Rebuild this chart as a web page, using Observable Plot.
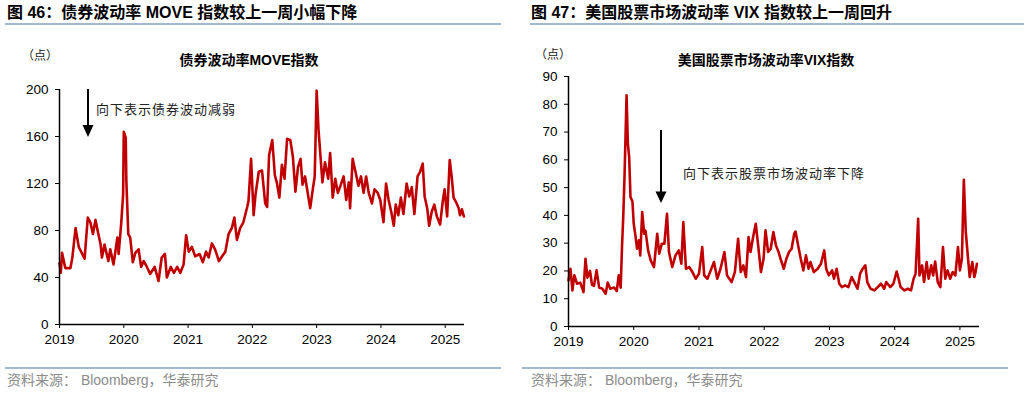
<!DOCTYPE html>
<html><head><meta charset="utf-8">
<script src="https://cdn.jsdelivr.net/npm/d3@7"></script>
<script src="https://cdn.jsdelivr.net/npm/@observablehq/plot@0.6"></script>
<style>
body{margin:0;background:#fff;width:1030px;height:393px;position:relative;overflow:hidden;font-family:"Liberation Sans","Noto Sans CJK SC",sans-serif;}
.abs{position:absolute;white-space:nowrap;line-height:1;}
.title{font-weight:bold;font-size:16px;color:#000;}
.rule{position:absolute;background:#a3b9d2;}
.unit{font-size:12px;color:#222;font-family:"Noto Sans CJK SC",sans-serif;}
.sub{font-weight:bold;font-size:14px;color:#000;transform:translateX(-50%);}
.note{font-size:13px;letter-spacing:1px;color:#222;font-family:"Noto Sans CJK SC",sans-serif;}
.src{font-size:14px;color:#8c8c8c;}
.plot{position:absolute;top:0;}
</style></head><body>
<script>
// ---- data ----
const years = [2019, 2020, 2021, 2022, 2023, 2024, 2025];
const moveTicks = [0, 40, 80, 120, 160, 200];
const vixTicks = [0, 10, 20, 30, 40, 50, 60, 70, 80, 90];

const moveT = [2019.00,2019.02,2019.04,2019.09,2019.17,2019.20,2019.25,2019.30,2019.39,2019.44,2019.48,2019.52,2019.56,2019.60,2019.64,2019.66,2019.70,2019.76,2019.79,2019.84,2019.90,2019.92,2019.96,2019.99,2020.00,2020.03,2020.04,2020.07,2020.10,2020.14,2020.18,2020.23,2020.27,2020.31,2020.36,2020.41,2020.48,2020.54,2020.59,2020.64,2020.67,2020.73,2020.78,2020.83,2020.88,2020.93,2020.97,2021.01,2021.06,2021.11,2021.18,2021.23,2021.28,2021.32,2021.37,2021.42,2021.48,2021.53,2021.58,2021.63,2021.68,2021.72,2021.76,2021.81,2021.86,2021.92,2021.94,2021.98,2022.02,2022.05,2022.10,2022.15,2022.20,2022.23,2022.26,2022.31,2022.35,2022.38,2022.42,2022.46,2022.50,2022.54,2022.59,2022.63,2022.67,2022.71,2022.75,2022.78,2022.82,2022.87,2022.90,2022.94,2022.97,2023.00,2023.03,2023.06,2023.09,2023.13,2023.18,2023.21,2023.25,2023.29,2023.33,2023.37,2023.42,2023.46,2023.50,2023.52,2023.56,2023.60,2023.65,2023.69,2023.73,2023.77,2023.81,2023.86,2023.90,2023.95,2023.99,2024.04,2024.08,2024.12,2024.16,2024.20,2024.23,2024.27,2024.31,2024.35,2024.40,2024.44,2024.48,2024.52,2024.57,2024.61,2024.65,2024.68,2024.72,2024.75,2024.79,2024.83,2024.87,2024.92,2024.96,2024.99,2025.03,2025.07,2025.10,2025.13,2025.17,2025.21,2025.23,2025.26,2025.29];
const moveV = [52,44,61,48,48,57,82,66,56,91,87,77,89,78,68,57,68,54,64,51,74,60,86,111,164,159,122,77,74,53,61,64,49,54,49,43,49,37,57,60,40,49,44,49,44,51,76,62,66,58,60,53,62,57,69,64,54,58,62,77,82,91,72,82,87,100,105,141,93,111,130,131,103,100,144,157,127,121,108,136,124,158,157,143,113,134,141,119,126,109,99,115,126,199,165,143,121,138,124,146,108,124,112,118,126,106,121,99,141,131,118,126,112,126,112,103,115,112,106,87,120,106,96,84,102,93,108,94,120,109,117,94,126,130,137,109,99,84,96,102,92,85,104,115,92,140,126,108,104,99,93,98,92];

const vixT = [2019.00,2019.03,2019.06,2019.09,2019.13,2019.18,2019.23,2019.26,2019.29,2019.33,2019.36,2019.39,2019.43,2019.47,2019.52,2019.57,2019.60,2019.64,2019.70,2019.74,2019.77,2019.80,2019.82,2019.84,2019.86,2019.89,2019.91,2019.93,2019.95,2019.98,2020.00,2020.03,2020.05,2020.08,2020.10,2020.13,2020.16,2020.18,2020.22,2020.26,2020.31,2020.36,2020.39,2020.43,2020.47,2020.51,2020.54,2020.59,2020.64,2020.69,2020.73,2020.76,2020.80,2020.85,2020.90,2020.95,2021.00,2021.05,2021.08,2021.13,2021.18,2021.23,2021.28,2021.33,2021.39,2021.43,2021.50,2021.55,2021.60,2021.64,2021.68,2021.72,2021.76,2021.79,2021.83,2021.87,2021.91,2021.95,2021.99,2022.02,2022.06,2022.10,2022.14,2022.18,2022.22,2022.25,2022.30,2022.34,2022.38,2022.42,2022.46,2022.48,2022.52,2022.56,2022.60,2022.64,2022.68,2022.71,2022.76,2022.82,2022.87,2022.92,2022.95,2022.99,2023.04,2023.07,2023.11,2023.15,2023.19,2023.24,2023.29,2023.34,2023.38,2023.43,2023.47,2023.51,2023.55,2023.58,2023.63,2023.69,2023.74,2023.79,2023.84,2023.87,2023.93,2023.98,2024.03,2024.06,2024.09,2024.15,2024.20,2024.25,2024.29,2024.32,2024.36,2024.38,2024.42,2024.45,2024.49,2024.52,2024.56,2024.59,2024.62,2024.66,2024.70,2024.74,2024.775,2024.81,2024.85,2024.89,2024.93,2024.97,2025.00,2025.03,2025.06,2025.08,2025.09,2025.12,2025.15,2025.19,2025.22,2025.24,2025.26];
const vixV = [16.6,20.8,13,18.4,15.4,15.8,12.4,24.4,17.6,20,15,14.6,20.2,14,13.6,11.8,15.8,13.6,14,12.8,18.4,14,28.6,40,55,83.2,65.8,61,46.6,45,37,32,28,31,25.6,41.2,33.4,34.5,27.4,23.8,21.4,33.4,26.2,29.8,29.8,40.6,26.8,21.4,25.6,27.4,22.6,37.6,20.8,21.4,19.6,17.2,19,28.6,18.4,17.2,20.2,23.2,17.2,20.8,26.8,18.4,16,19.6,31.6,19.6,22,17.8,32.2,26.8,32.2,37,28.6,19.6,24.4,34.6,26.8,28,34,29.2,26.8,24.4,20.8,24.4,26.8,28,33.4,34.2,29.2,24.4,20.2,25.6,20.8,23.2,19.6,20.8,22.6,27.4,20.8,18.4,20.2,17.2,20.8,15.4,14.2,14.8,14.2,17.8,16,13.6,19,20.8,22,16,13.6,13,14.2,15.4,13.6,16,14.2,15.4,19.8,17.2,14.2,13,13.6,13,17.2,19,38.8,18.4,22,16,23.2,17.2,22,18.4,23.4,16,14.2,28.6,17.2,20.2,17.2,19.6,18.4,28.6,20.2,24.4,52.8,40,34,25.6,17.8,23.2,17.8,19.6,22.6];

const moveData = moveT.map((t, i) => ({t, v: moveV[i]}));
const vixData = vixT.map((t, i) => ({t, v: vixV[i]}));

// ---- layout helpers ----
function el(cls, text, css) {
  const d = document.createElement("div");
  d.className = "abs " + cls;
  d.textContent = text;
  Object.assign(d.style, css);
  document.body.appendChild(d);
  return d;
}
function rule(left, top, width, h) {
  const d = document.createElement("div");
  d.className = "rule";
  Object.assign(d.style, {left: left + "px", top: top + "px", width: width + "px", height: h + "px"});
  document.body.appendChild(d);
}

function chart(data, o) {
  return Plot.plot({
    width: 515, height: 360,
    marginLeft: o.ml, marginRight: o.mr, marginTop: o.mt, marginBottom: o.mb,
    x: {domain: [2019, 2025.3], ticks: years, tickFormat: d => String(d), tickSize: 4, tickPadding: 6, label: null},
    y: {domain: o.yd, ticks: o.yt, tickSize: 4, tickPadding: 7, label: null},
    style: {fontFamily: '"Liberation Sans", Arial, sans-serif', fontSize: "13.5px", color: "#000", background: "transparent", overflow: "visible"},
    marks: [
      Plot.line(data, {x: "t", y: "v", stroke: "#C00000", strokeWidth: 2.6, strokeLinejoin: "round"}),
      Plot.ruleX([2019], {stroke: "#000", strokeWidth: 1.5}),
      Plot.ruleY([0], {stroke: "#000", strokeWidth: 1.5})
    ]
  });
}

// left panel
el("title", "图 46：债券波动率 MOVE 指数较上一周小幅下降", {left: "7px", top: "5px"});
rule(5, 23, 496, 2);
el("unit", "（点）", {left: "22px", top: "49px"});
el("sub", "债券波动率MOVE指数", {left: "249px", top: "53px"});
const p1 = chart(moveData, {ml: 59, mr: 51, mt: 89, mb: 36, yd: [0, 200], yt: moveTicks});
p1.classList.add("plot"); p1.style.left = "0px";
document.body.appendChild(p1);
el("note", "向下表示债券波动减弱", {left: "96px", top: "102px"});
rule(5, 367, 496, 1.5);
el("src", "资料来源：  Bloomberg，华泰研究", {left: "7px", top: "373px"});

// right panel
el("title", "图 47：美国股票市场波动率 VIX 指数较上一周回升", {left: "531px", top: "5px"});
rule(530, 23, 494, 2);
el("unit", "（点）", {left: "535px", top: "48px"});
el("sub", "美国股票市场波动率VIX指数", {left: "766px", top: "53px"});
const p2 = chart(vixData, {ml: 53, mr: 51, mt: 76, mb: 34, yd: [0, 90], yt: vixTicks});
p2.classList.add("plot"); p2.style.left = "515px";
document.body.appendChild(p2);
el("note", "向下表示股票市场波动率下降", {left: "683px", top: "166px"});
rule(522, 367, 486, 1.5);
el("src", "资料来源：  Bloomberg，华泰研究", {left: "531px", top: "373px"});

// annotation arrows
const ns = "http://www.w3.org/2000/svg";
const ov = document.createElementNS(ns, "svg");
ov.setAttribute("width", 1030); ov.setAttribute("height", 393);
ov.style.position = "absolute"; ov.style.left = "0"; ov.style.top = "0"; ov.style.pointerEvents = "none";
ov.innerHTML = `
  <line x1="88" y1="89" x2="88" y2="127" stroke="#000" stroke-width="2"/>
  <polygon points="82.5,125 93.5,125 88,137" fill="#000"/>
  <line x1="661" y1="130" x2="661" y2="194" stroke="#000" stroke-width="2"/>
  <polygon points="655.5,191.5 666.5,191.5 661,203" fill="#000"/>`;
document.body.appendChild(ov);
</script>
</body></html>
